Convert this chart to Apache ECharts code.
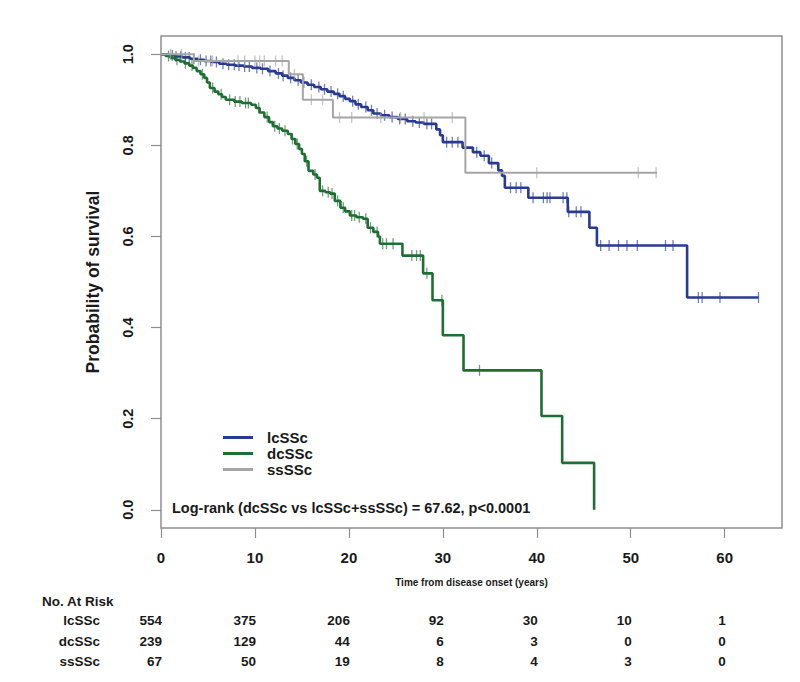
<!DOCTYPE html>
<html>
<head>
<meta charset="utf-8">
<script src="https://cdn.jsdelivr.net/npm/echarts@6/dist/echarts.min.js"></script>
<style>
html,body{margin:0;padding:0;background:#fff;}
#chart{width:800px;height:682px;}
</style>
</head>
<body>
<div id="chart"></div>
<script>
// ---------- data ----------
const groupNames = ['lcSSc', 'dcSSc', 'ssSSc'];

// Kaplan–Meier step points [time (years), survival]
const lcSScSteps = [
  [0,1],[0.8,0.998],[1.5,0.995],[2.3,0.993],[3.1,0.99],[3.9,0.988],[4.6,0.985],[5.4,0.983],
  [6.2,0.979],[7.0,0.977],[7.9,0.975],[8.8,0.973],[9.7,0.970],[10.6,0.968],[11.4,0.963],
  [12.2,0.958],[12.9,0.953],[13.5,0.948],[14.2,0.943],[14.9,0.938],[15.6,0.933],[16.3,0.928],
  [17.0,0.923],[17.7,0.918],[18.4,0.913],[19.0,0.908],[19.6,0.902],[20.1,0.897],[20.7,0.890],
  [21.3,0.884],[22.0,0.877],[22.6,0.870],[23.4,0.866],[24.3,0.862],[25.2,0.858],[26.2,0.853],
  [27.1,0.850],[28.0,0.847],[29.3,0.835],[29.7,0.822],[30.0,0.807],[32.1,0.795],[33.2,0.785],
  [34.0,0.777],[34.9,0.761],[35.9,0.745],[36.3,0.733],[36.6,0.707],[39.1,0.685],[43.3,0.654],
  [45.6,0.619],[46.4,0.580],[56.0,0.466],[63.6,0.466]
];
const dcSScSteps = [
  [0,1],[0.5,0.996],[1.0,0.992],[1.5,0.988],[2.0,0.984],[2.5,0.980],[3.0,0.975],[3.4,0.970],
  [3.8,0.963],[4.2,0.956],[4.6,0.948],[4.9,0.938],[5.2,0.926],[5.7,0.918],[6.1,0.912],
  [6.5,0.906],[6.9,0.900],[7.8,0.896],[8.6,0.893],[9.6,0.889],[10.1,0.882],[10.5,0.872],
  [11.0,0.862],[11.5,0.851],[11.9,0.842],[12.4,0.837],[12.9,0.832],[13.5,0.825],[13.9,0.814],
  [14.3,0.803],[14.7,0.792],[15.0,0.781],[15.3,0.765],[15.7,0.744],[16.2,0.736],[16.6,0.729],
  [16.9,0.700],[17.5,0.697],[18.0,0.694],[18.5,0.678],[19.1,0.663],[19.6,0.655],[20.1,0.646],
  [20.8,0.642],[21.5,0.639],[22.0,0.619],[22.6,0.610],[23.1,0.600],[23.3,0.584],[25.7,0.558],
  [27.9,0.519],[28.9,0.460],[30.0,0.383],[32.2,0.306],[40.5,0.206],[42.7,0.103],[46.1,0]
];
const ssSScSteps = [
  [0,1],[3.5,0.985],[13.6,0.956],[15.1,0.900],[18.3,0.861],[32.4,0.740],[52.8,0.740]
];

// censoring times (years)
const lcSScCensored = [1.2,1.6,2.1,2.6,3.0,3.5,4.2,4.8,5.3,5.9,6.6,7.2,7.8,8.3,8.9,9.4,10.2,10.8,
  11.6,12.5,13.0,13.8,14.6,15.2,16.0,16.8,17.4,18.1,18.8,19.4,20.4,21.0,21.8,22.4,23.0,23.8,24.6,
  25.4,26.0,26.8,27.5,28.3,28.8,30.4,31.0,31.6,33.6,34.4,35.2,37.2,37.8,38.3,39.6,40.7,41.1,41.4,
  42.8,43.2,43.4,44.2,44.7,46.8,47.7,48.7,49.6,50.7,53.7,54.5,57.2,57.6,59.5,63.6];
const dcSScCensored = [0.8,1.7,2.6,3.3,4.4,5.5,6.4,7.3,7.9,8.4,9.0,9.3,10.4,11.3,12.1,12.6,13.2,
  14.0,14.5,15.5,16.4,17.2,17.8,18.2,18.8,19.4,20.3,20.6,21.1,21.8,22.3,23.0,23.6,24.0,24.7,26.7,
  27.2,27.6,28.3,29.9,33.9];
const ssSScCensored = [1.0,2.2,4.0,5.5,8.2,8.9,10.0,10.5,11.0,12.2,12.9,14.2,16.0,17.2,19.0,20.3,
  23.4,25.5,28.0,31.0,40.0,50.8,52.7];

// x ticks and numbers at risk
const xTicks = [0,10,20,30,40,50,60];
const yTicks = [0,0.2,0.4,0.6,0.8,1.0];
const riskLc = [554,375,206,92,30,10,1];
const riskDc = [239,129,44,6,3,0,0];
const riskSs = [67,50,19,8,4,3,0];

const testText = 'Log-rank (dcSSc vs lcSSc+ssSSc) = 67.62, p<0.0001';

// ---------- styling ----------
const FONT = '"Liberation Sans", Arial, sans-serif';
const colors = {lcSSc:'#283a92', dcSSc:'#1f6e33', ssSSc:'#a6a6a6'};
const frameColor = '#8e8e8e';

function survAt(steps, t){
  let s = steps[0][1];
  for (const p of steps){ if (p[0] <= t) s = p[1]; else break; }
  return s;
}
function censorPoints(steps, times){ return times.map(t => [t, survAt(steps, t)]); }

const stepSets = {lcSSc: lcSScSteps, dcSSc: dcSScSteps, ssSSc: ssSScSteps};
const censorSets = {lcSSc: lcSScCensored, dcSSc: dcSScCensored, ssSSc: ssSScCensored};

const series = [];
groupNames.forEach((g, i) => {
  series.push({
    name: g, type: 'line', step: 'end', data: stepSets[g], showSymbol: false, symbol: 'none',
    lineStyle: {color: colors[g], width: g === 'ssSSc' ? 2 : 2.6},
    itemStyle: {color: colors[g]}, z: 2 + i, animation: false, silent: true
  });
});
groupNames.forEach((g, i) => {
  series.push({
    name: g + ' censored', type: 'scatter', data: censorPoints(stepSets[g], censorSets[g]),
    symbol: 'rect', symbolSize: [1.3, 11],
    itemStyle: {color: colors[g], opacity: 0.65}, z: 2 + i, animation: false, silent: true
  });
});

const chart = echarts.init(document.getElementById('chart'), null, {renderer: 'svg'});
const gridLeft = 161, gridTop = 36, gridRight = 18, gridBottom = 154;

chart.setOption({
  backgroundColor: '#ffffff',
  animation: false,
  grid: {left: gridLeft, top: gridTop, right: gridRight, bottom: gridBottom,
         show: true, borderColor: frameColor, borderWidth: 1.5, backgroundColor: 'transparent'},
  legend: {
    data: groupNames.map(n => ({name: n, icon: 'rect'})),
    orient: 'vertical', left: 218, top: 425, itemWidth: 30, itemHeight: 3, itemGap: 1,
    selectedMode: false,
    textStyle: {fontFamily: FONT, fontSize: 15, fontWeight: 'bold', color: '#1a1a1a', padding: [0,0,0,9]}
  },
  xAxis: {
    type: 'value', min: 0, max: 66.1,
    name: 'Time from disease onset (years)', nameLocation: 'middle', nameGap: 49,
    nameTextStyle: {fontFamily: FONT, fontSize: 10, fontWeight: 'bold', color: '#1a1a1a'},
    axisLine: {show: false, onZero: false}, splitLine: {show: false},
    axisTick: {show: true, customValues: xTicks, length: 10, lineStyle: {color: frameColor, width: 1.2}},
    axisLabel: {customValues: xTicks, margin: 22, fontFamily: FONT, fontSize: 15, fontWeight: 'bold', color: '#1a1a1a'}
  },
  yAxis: {
    type: 'value', min: -0.04, max: 1.04,
    name: 'Probability of survival', nameLocation: 'middle', nameGap: 59, nameRotate: 90,
    nameTextStyle: {fontFamily: FONT, fontSize: 17.5, fontWeight: 'bold', color: '#1a1a1a'},
    axisLine: {show: false, onZero: false}, splitLine: {show: false},
    axisTick: {show: true, customValues: yTicks, length: 10, lineStyle: {color: frameColor, width: 1.2}},
    axisLabel: {customValues: yTicks, rotate: 90, margin: 26, fontFamily: FONT, fontSize: 14.5,
                fontWeight: 'bold', color: '#1a1a1a', formatter: v => v.toFixed(1)}
  },
  series: series
});

// text annotations: log-rank test and numbers-at-risk table
const gfx = [];
const y0 = chart.convertToPixel({yAxisIndex: 0}, 0);
gfx.push({type: 'text', left: 172, top: y0 - 9,
  style: {text: testText, font: 'bold 14.5px ' + FONT, fill: '#1a1a1a'}});
gfx.push({type: 'text', x: 42, y: 601,
  style: {text: 'No. At Risk', font: 'bold 13.5px ' + FONT, fill: '#1a1a1a', verticalAlign: 'middle'}});
const rows = [['lcSSc', riskLc, 620], ['dcSSc', riskDc, 641], ['ssSSc', riskSs, 661]];
rows.forEach(r => {
  gfx.push({type: 'text', x: 100, y: r[2],
    style: {text: r[0], font: 'bold 13.5px ' + FONT, fill: '#1a1a1a', align: 'right', verticalAlign: 'middle'}});
  r[1].forEach((v, i) => {
    const px = chart.convertToPixel({xAxisIndex: 0}, xTicks[i]);
    gfx.push({type: 'text', x: px + 1, y: r[2],
      style: {text: String(v), font: 'bold 13.5px ' + FONT, fill: '#1a1a1a', align: 'right', verticalAlign: 'middle'}});
  });
});
chart.setOption({graphic: gfx});
</script>
</body>
</html>
